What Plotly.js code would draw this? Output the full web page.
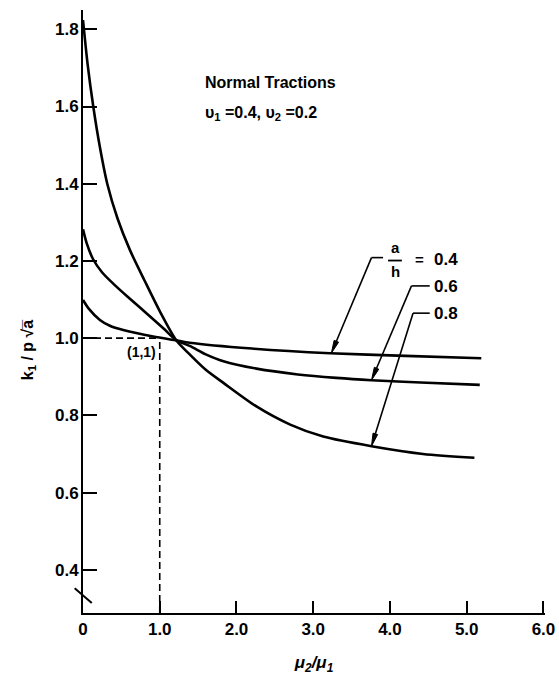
<!DOCTYPE html>
<html>
<head>
<meta charset="utf-8">
<script src="https://cdn.plot.ly/plotly-3.0.1.min.js"></script>
<style>
  html, body { margin: 0; padding: 0; background: #fff; }
  #chart { width: 559px; height: 675px; }
</style>
</head>
<body>
<div id="chart"></div>
<script>
// Stress intensity factor k1/(p*sqrt(a)) versus shear-modulus ratio mu2/mu1
// for three crack-length ratios a/h (normal tractions, nu1 = 0.4, nu2 = 0.2).
const ah04_x = [0, 0.08, 0.22, 0.35, 0.525, 0.915, 1.22, 1.39, 2.2, 3.22, 4.2, 5.19];
const ah04_y = [1.099, 1.075, 1.047, 1.032, 1.021, 1.004, 0.994, 0.988, 0.973, 0.961, 0.954, 0.948];

const ah06_x = [0, 0.05, 0.13, 0.25, 0.4, 0.6, 0.83, 1.05, 1.22, 1.39, 1.6, 1.83, 2.26, 2.8, 3.3, 3.76, 4.4, 5.17];
const ah06_y = [1.282, 1.245, 1.205, 1.170, 1.140, 1.104, 1.064, 1.025, 0.994, 0.980, 0.958, 0.940, 0.921, 0.906, 0.897, 0.891, 0.885, 0.879];

const ah08_x = [0, 0.06, 0.134, 0.22, 0.316, 0.45, 0.612, 0.8, 1.0, 1.22, 1.39, 1.6, 1.83, 2.26, 2.7, 3.13, 3.76, 4.43, 5.1];
const ah08_y = [1.824, 1.71, 1.60, 1.495, 1.40, 1.31, 1.228, 1.150, 1.070, 0.993, 0.958, 0.918, 0.884, 0.823, 0.776, 0.745, 0.720, 0.700, 0.690];

const ratioLabels = ['0.4', '0.6', '0.8'];

const xTickVals = [0, 1, 2, 3, 4, 5, 6];
const xTickText = ['0', '1.0', '2.0', '3.0', '4.0', '5.0', '6.0'];
const yTickVals = [0.4, 0.6, 0.8, 1.0, 1.2, 1.4, 1.6, 1.8];
const yTickText = ['0.4', '0.6', '0.8', '1.0', '1.2', '1.4', '1.6', '1.8'];

// reference point (mu2/mu1, k) = (1, 1)
const refPoint = [1, 1];

const FONT = 'Liberation Sans, Arial, Helvetica, sans-serif';
const W = 559, H = 675;
const M = { l: 83, r: 14, t: 10, b: 62 };
const XMAX = 6.02, YMIN = 0.288, YMAX = 1.85;

// pixels per data unit, used to shape the arrowheads so they look right on screen
const SX = (W - M.l - M.r) / XMAX;
const SY = (H - M.t - M.b) / (YMAX - YMIN);

// linear interpolation on a curve, used to place the leader arrow tips
function interp(xs, ys, x) {
  for (let i = 1; i < xs.length; i++) {
    if (x <= xs[i]) {
      const t = (x - xs[i - 1]) / (xs[i] - xs[i - 1]);
      return ys[i - 1] + t * (ys[i] - ys[i - 1]);
    }
  }
  return ys[ys.length - 1];
}

const lineStyle = { color: '#000', width: 2.6, shape: 'spline', smoothing: 0.8 };
const traces = [
  { x: ah04_x, y: ah04_y, name: 'a/h = ' + ratioLabels[0], mode: 'lines', line: lineStyle, hoverinfo: 'skip' },
  { x: ah06_x, y: ah06_y, name: 'a/h = ' + ratioLabels[1], mode: 'lines', line: lineStyle, hoverinfo: 'skip' },
  { x: ah08_x, y: ah08_y, name: 'a/h = ' + ratioLabels[2], mode: 'lines', line: lineStyle, hoverinfo: 'skip' }
];

// leader lines: tip on the curve, knee, then a short horizontal run to the label
const leaders = [
  { xs: ah04_x, ys: ah04_y, tip: 3.236, kx: 3.759, ky: 1.2086, ex: 3.91 },
  { xs: ah06_x, ys: ah06_y, tip: 3.759, kx: 4.28, ky: 1.1353, ex: 4.518 },
  { xs: ah08_x, ys: ah08_y, tip: 3.759, kx: 4.30, ky: 1.0647, ex: 4.518 }
];

const shapes = [
  // dashed guides to the reference point
  { type: 'line', xref: 'x', yref: 'y', x0: 0, y0: refPoint[1], x1: refPoint[0], y1: refPoint[1],
    line: { color: '#000', width: 1.6, dash: '7px,4px' } },
  { type: 'line', xref: 'x', yref: 'y', x0: refPoint[0], y0: YMIN, x1: refPoint[0], y1: refPoint[1],
    line: { color: '#000', width: 1.6, dash: '7px,4px' } },
  // axis break mark on the y axis
  { type: 'line', xref: 'paper', yref: 'y', x0: -0.018, y0: 0.352, x1: 0.019, y1: 0.314,
    line: { color: '#000', width: 2 } },
  // fraction bar in a/h
  { type: 'line', xref: 'x', yref: 'y', x0: 3.975, y0: 1.201, x1: 4.155, y1: 1.201,
    line: { color: '#000', width: 1.8 } }
];

const HEAD_LEN = 13, HEAD_HALF = 2.4;
leaders.forEach((L) => {
  const tx = L.tip, ty = interp(L.xs, L.ys, L.tip);
  // direction knee -> tip in screen pixels (screen y grows downward)
  const dxp = (tx - L.kx) * SX, dyp = -(ty - L.ky) * SY;
  const len = Math.hypot(dxp, dyp);
  const ux = dxp / len, uy = dyp / len;
  const bx = -ux * HEAD_LEN, by = -uy * HEAD_LEN;      // base offset from tip, px
  const nx = -uy * HEAD_HALF, ny = ux * HEAD_HALF;      // normal offset, px
  const toX = (p) => tx + p / SX;
  const toY = (p) => ty - p / SY;
  const baseX = toX(bx), baseY = toY(by);
  shapes.push(
    { type: 'line', xref: 'x', yref: 'y', x0: L.ex, y0: L.ky, x1: L.kx, y1: L.ky,
      line: { color: '#000', width: 1.6 } },
    { type: 'line', xref: 'x', yref: 'y', x0: L.kx, y0: L.ky, x1: baseX, y1: baseY,
      line: { color: '#000', width: 1.6 } },
    { type: 'path', xref: 'x', yref: 'y',
      path: 'M ' + tx + ',' + ty +
            ' L ' + toX(bx + nx) + ',' + toY(by + ny) +
            ' L ' + toX(bx - nx) + ',' + toY(by - ny) + ' Z',
      fillcolor: '#000', line: { color: '#000', width: 1 } }
  );
});

const bold = (size) => ({ family: FONT, size: size, color: '#000', weight: 700 });

const annotations = [
  { x: 4.735, y: 1.2044, xref: 'x', yref: 'y', text: ratioLabels[0], showarrow: false, font: bold(17) },
  { x: 4.735, y: 1.1335, xref: 'x', yref: 'y', text: ratioLabels[1], showarrow: false, font: bold(17) },
  { x: 4.735, y: 1.063, xref: 'x', yref: 'y', text: ratioLabels[2], showarrow: false, font: bold(17) },
  { x: 4.379, y: 1.2044, xref: 'x', yref: 'y', text: '=', showarrow: false, font: bold(15) },
  { x: 4.066, y: 1.236, xref: 'x', yref: 'y', text: 'a', showarrow: false, font: bold(15) },
  { x: 4.066, y: 1.172, xref: 'x', yref: 'y', text: 'h', showarrow: false, font: bold(15) },
  { x: 1.5625, y: 1.661, xref: 'x', yref: 'y', xanchor: 'left', text: 'Normal Tractions',
    showarrow: false, font: bold(16) },
  { x: 1.5625, y: 1.583, xref: 'x', yref: 'y', xanchor: 'left',
    text: 'υ<sub>1</sub> =0.4, υ<sub>2</sub> =0.2', showarrow: false, font: bold(16) },
  { x: 0.768, y: 0.965, xref: 'x', yref: 'y', text: '(1,1)', showarrow: false, font: bold(14) },
  // y axis title
  { x: -0.143, y: 0.97, xref: 'paper', yref: 'y', textangle: -90,
    text: 'k<sub>1</sub> / p √a̅', showarrow: false, font: bold(16) }
];

const axisCommon = {
  showline: true, linecolor: '#000', linewidth: 2, mirror: false,
  showgrid: false, zeroline: false, ticks: 'inside', tickwidth: 2, tickcolor: '#000',
  tickmode: 'array', fixedrange: true, tickfont: bold(17)
};

const layout = {
  width: W, height: H,
  margin: M,
  paper_bgcolor: '#fff', plot_bgcolor: '#fff',
  showlegend: false,
  xaxis: Object.assign({}, axisCommon, {
    range: [0, XMAX], tickvals: xTickVals, ticktext: xTickText, ticklen: 12,
    title: { text: '<i>μ<sub>2</sub>/μ<sub>1</sub></i>', font: bold(17), standoff: 20 }
  }),
  yaxis: Object.assign({}, axisCommon, {
    range: [YMIN, YMAX], tickvals: yTickVals, ticktext: yTickText, ticklen: 14,
    ticklabelstandoff: -1
  }),
  shapes: shapes,
  annotations: annotations
};

Plotly.newPlot('chart', traces, layout, { displayModeBar: false, staticPlot: true });
</script>
</body>
</html>
